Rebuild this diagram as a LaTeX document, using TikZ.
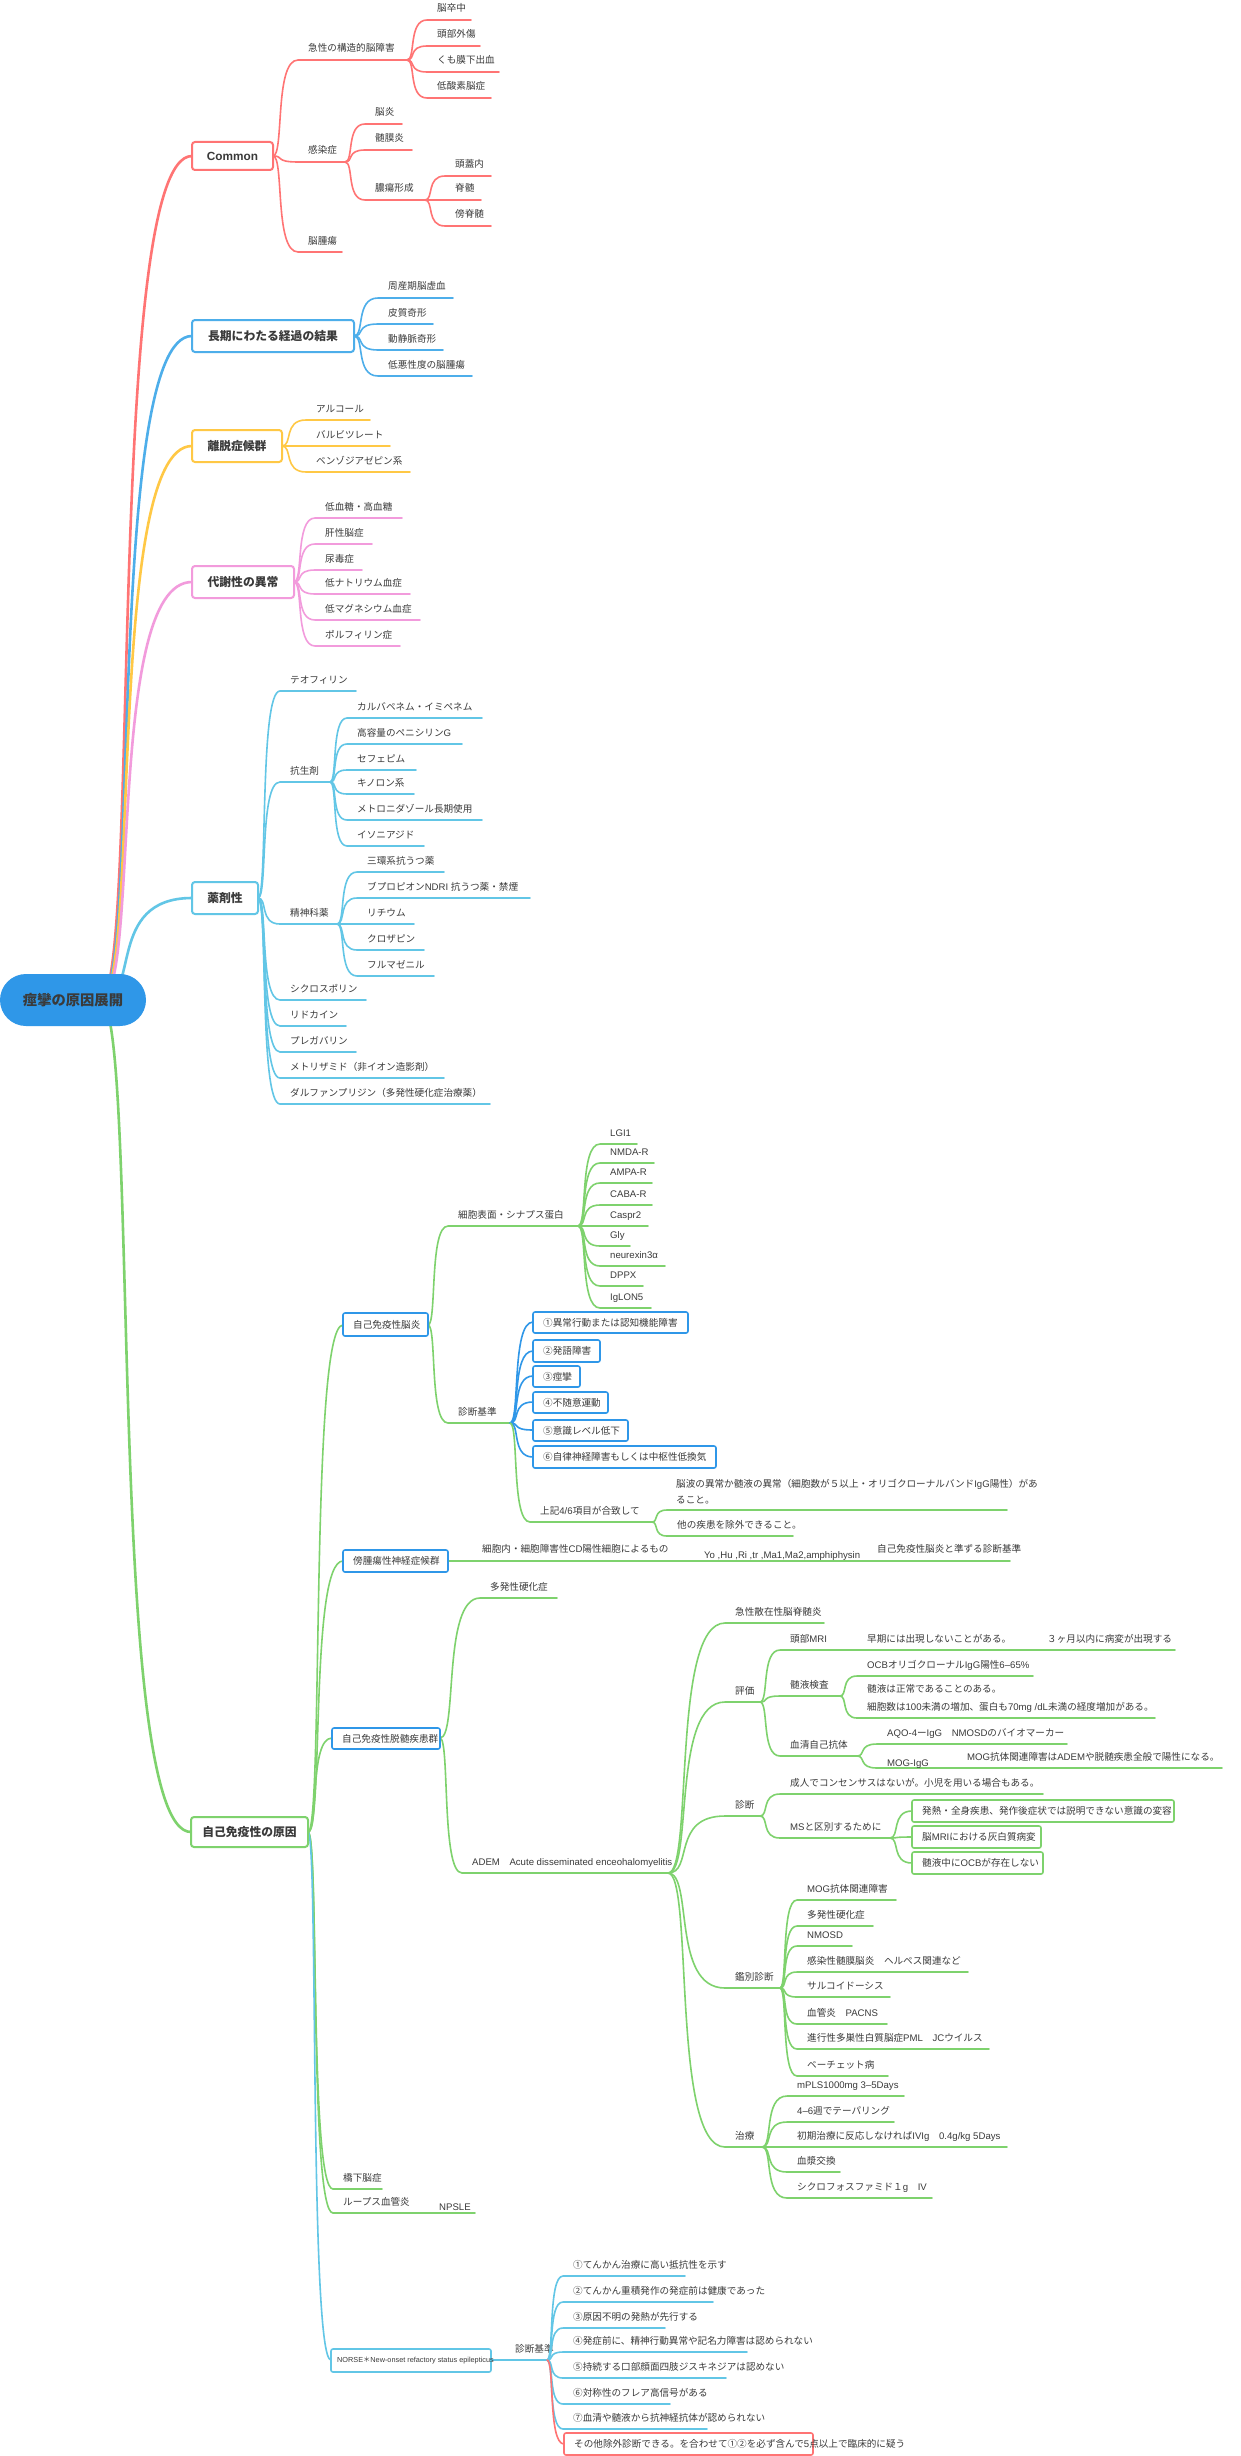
\documentclass[tikz,border=0pt]{standalone}
\usepackage{fontspec}
\setmainfont{Liberation Sans}
\newfontfamily\jpf{Noto Sans CJK JP}
\newcount\cc
\newXeTeXintercharclass\cjkclass
\newcommand\setcls[2]{\cc=#1 \loop \XeTeXcharclass\cc=\cjkclass \ifnum\cc<#2 \advance\cc by 1 \repeat}
\setcls{"2460}{"24FF}
\setcls{"3000}{"30FF}
\setcls{"4E00}{"9FFF}
\setcls{"FF00}{"FFEF}
\XeTeXinterchartokenstate=1
\XeTeXinterchartoks 0 \cjkclass = {\jpf}
\XeTeXinterchartoks 4095 \cjkclass = {\jpf}
\XeTeXinterchartoks \cjkclass 0 = {\rmfamily}
\definecolor{cR}{HTML}{FF7474}
\definecolor{cB}{HTML}{4DAEEA}
\definecolor{cY}{HTML}{FFC845}
\definecolor{cP}{HTML}{F29BDC}
\definecolor{cC}{HTML}{62C6E6}
\definecolor{cG}{HTML}{7ED26D}
\definecolor{cBB}{HTML}{2F97E8}
\definecolor{txt}{HTML}{3A3A3A}
\tikzset{
  lbl/.style={anchor=base west, inner sep=0pt, font=\fontsize{9.6}{11}\selectfont, text=txt},
  mlbl/.style={inner sep=0pt, font=\fontsize{11.8}{13}\selectfont\bfseries, text=txt},
  ln/.style={line width=1.6pt, line cap=round},
  mln/.style={line width=2.6pt, line cap=round},
}
% branch: color, x0,y0, x1,y1, x2, label
\newcommand\Br[7]{%
  \draw[ln,#1] (#2,#3) .. controls ({#2+0.45*(#4-#2)},#3) and ({#2+0.05*(#4-#2)},#5) .. (#4,#5) -- (#6,#5);
  \node[lbl] at (#4+10,#5-8) {#7};}
% connector only
\newcommand\Cn[6]{%
  \draw[#1,#6] (#2,#3) .. controls ({#2+0.45*(#4-#2)},#3) and ({#2+0.05*(#4-#2)},#5) .. (#4,#5);}
% box: color, x0,y0,x1,y1, text
\newcommand\Bx[6]{%
  \draw[line width=1.6pt,#1,fill=white,rounded corners=2pt] (#2,#3) rectangle (#4,#5);
  \node[lbl,anchor=west] at (#2+10,{(#3+#5)/2}) {#6};}
\newcommand\MBx[6]{%
  \draw[line width=2pt,#1,fill=white,rounded corners=3pt] (#2,#3) rectangle (#4,#5);
  \node[mlbl] at ({(#2+#4)/2},{(#3+#5)/2}) {#6};}
\newcommand\Lb[3]{\node[lbl] at (#1,#2) {#3};}
\begin{document}
\begin{tikzpicture}[x=1pt,y=-1pt]
\useasboundingbox[fill=white] (0,0) rectangle (1240,2456);
% ---- root connectors
\Cn{cR}{100}{1000}{192}{156}{mln}
\Cn{cB}{100}{1000}{192}{336}{mln}
\Cn{cY}{100}{1000}{192}{446}{mln}
\Cn{cP}{100}{1000}{192}{582}{mln}
\Cn{cC}{100}{1000}{192}{898}{mln}
\Cn{cG}{100}{1000}{191}{1832}{mln}
\node[fill=cBB, rounded corners=26pt, minimum width=146pt, minimum height=52pt, inner sep=0pt,
  font=\fontsize{14.3}{16}\selectfont\bfseries, text=txt] (root) at (73,1000) {痙攣の原因展開};
% ---- Common
\Br{cR}{273}{156}{298}{60}{407}{急性の構造的脳障害}
\Br{cR}{407}{60}{427}{20}{471}{脳卒中}
\Br{cR}{407}{60}{427}{46}{480}{頭部外傷}
\Br{cR}{407}{60}{427}{72}{499}{くも膜下出血}
\Br{cR}{407}{60}{427}{98}{491}{低酸素脳症}
\Br{cR}{273}{156}{298}{162}{345}{感染症}
\Br{cR}{345}{162}{365}{124}{402}{脳炎}
\Br{cR}{345}{162}{365}{150}{412}{髄膜炎}
\Br{cR}{345}{162}{365}{200}{425}{膿瘍形成}
\Br{cR}{425}{200}{445}{176}{491}{頭蓋内}
\Br{cR}{425}{200}{445}{200}{481}{脊髄}
\Br{cR}{425}{200}{445}{226}{491}{傍脊髄}
\Br{cR}{273}{156}{298}{252}{342}{脳腫瘍}
\MBx{cR}{192}{142}{273}{170}{Common}
% ---- 長期
\Br{cB}{354}{336}{378}{298}{453}{周産期脳虚血}
\Br{cB}{354}{336}{378}{324}{433}{皮質奇形}
\Br{cB}{354}{336}{378}{350}{443}{動静脈奇形}
\Br{cB}{354}{336}{378}{376}{472}{低悪性度の脳腫瘍}
\MBx{cB}{192}{320}{354}{352}{長期にわたる経過の結果}
% ---- 離脱
\Br{cY}{282}{446}{306}{420}{370}{アルコール}
\Br{cY}{282}{446}{306}{446}{390}{バルビツレート}
\Br{cY}{282}{446}{306}{472}{410}{ベンゾジアゼピン系}
\MBx{cY}{192}{430}{282}{462}{離脱症候群}
% ---- 代謝
\Br{cP}{294}{582}{315}{518}{402}{低血糖・高血糖}
\Br{cP}{294}{582}{315}{544}{372}{肝性脳症}
\Br{cP}{294}{582}{315}{570}{362}{尿毒症}
\Br{cP}{294}{582}{315}{594}{410}{低ナトリウム血症}
\Br{cP}{294}{582}{315}{620}{420}{低マグネシウム血症}
\Br{cP}{294}{582}{315}{646}{400}{ポルフィリン症}
\MBx{cP}{192}{566}{294}{598}{代謝性の異常}
% ---- 薬剤
\Br{cC}{258}{898}{280}{691}{356}{テオフィリン}
\Br{cC}{258}{898}{280}{782}{330}{抗生剤}
\Br{cC}{330}{782}{347}{718}{482}{カルバペネム・イミペネム}
\Br{cC}{330}{782}{347}{744}{462}{高容量のペニシリンG}
\Br{cC}{330}{782}{347}{770}{416}{セフェピム}
\Br{cC}{330}{782}{347}{794}{414}{キノロン系}
\Br{cC}{330}{782}{347}{820}{482}{メトロニダゾール長期使用}
\Br{cC}{330}{782}{347}{846}{424}{イソニアジド}
\Br{cC}{258}{898}{280}{924}{337}{精神科薬}
\Br{cC}{337}{924}{357}{872}{444}{三環系抗うつ薬}
\Br{cC}{337}{924}{357}{898}{530}{ブプロピオンNDRI 抗うつ薬・禁煙}
\Br{cC}{337}{924}{357}{924}{414}{リチウム}
\Br{cC}{337}{924}{357}{950}{424}{クロザピン}
\Br{cC}{337}{924}{357}{976}{434}{フルマゼニル}
\Br{cC}{258}{898}{280}{1000}{366}{シクロスポリン}
\Br{cC}{258}{898}{280}{1026}{346}{リドカイン}
\Br{cC}{258}{898}{280}{1052}{356}{プレガバリン}
\Br{cC}{258}{898}{280}{1078}{444}{メトリザミド（非イオン造影剤）}
\Br{cC}{258}{898}{280}{1104}{490}{ダルファンプリジン（多発性硬化症治療薬）}
\MBx{cC}{192}{882}{258}{914}{薬剤性}
% ---- 自己免疫性の原因
\Cn{cG}{308}{1832}{343}{1325}{ln}
\Cn{cG}{308}{1832}{343}{1561}{ln}
\Cn{cG}{308}{1832}{332}{1738}{ln}
\Br{cG}{308}{1832}{333}{2189}{382}{橋下脳症}
\Br{cG}{308}{1832}{333}{2213}{475}{ループス血管炎}
\Lb{439}{2210}{NPSLE}
\Cn{cC}{308}{1832}{331}{2360}{ln}
% 自己免疫性脳炎
\Br{cG}{428}{1325}{448}{1226}{578}{細胞表面・シナプス蛋白}
\Br{cG}{578}{1226}{600}{1144}{637}{LGI1}
\Br{cG}{578}{1226}{600}{1163}{654}{NMDA-R}
\Br{cG}{578}{1226}{600}{1183}{652}{AMPA-R}
\Br{cG}{578}{1226}{600}{1205}{652}{CABA-R}
\Br{cG}{578}{1226}{600}{1226}{648}{Caspr2}
\Br{cG}{578}{1226}{600}{1246}{630}{Gly}
\Br{cG}{578}{1226}{600}{1266}{665}{neurexin3α}
\Br{cG}{578}{1226}{600}{1286}{643}{DPPX}
\Br{cG}{578}{1226}{600}{1308}{651}{IgLON5}
\Br{cG}{428}{1325}{448}{1423}{510}{診断基準}
\Cn{cBB}{510}{1423}{533}{1322}{ln}
\Cn{cBB}{510}{1423}{533}{1351}{ln}
\Cn{cBB}{510}{1423}{533}{1376}{ln}
\Cn{cBB}{510}{1423}{533}{1402}{ln}
\Cn{cBB}{510}{1423}{533}{1430}{ln}
\Cn{cBB}{510}{1423}{533}{1457}{ln}
\Bx{cBB}{533}{1312}{688}{1333}{①異常行動または認知機能障害}
\Bx{cBB}{533}{1340}{600}{1362}{②発語障害}
\Bx{cBB}{533}{1366}{580}{1387}{③痙攣}
\Bx{cBB}{533}{1392}{608}{1413}{④不随意運動}
\Bx{cBB}{533}{1420}{628}{1441}{⑤意識レベル低下}
\Bx{cBB}{533}{1446}{716}{1468}{⑥自律神経障害もしくは中枢性低換気}
\Br{cG}{510}{1423}{530}{1522}{652}{上記4/6項目が合致して}
\Br{cG}{652}{1522}{667}{1510}{1007}{}
\Lb{676}{1487}{脳波の異常か髄液の異常（細胞数が５以上・オリゴクローナルバンドIgG陽性）があ}
\Lb{676}{1503}{ること。}
\Br{cG}{652}{1522}{667}{1536}{793}{他の疾患を除外できること。}
\Bx{cBB}{343}{1313}{428}{1336}{自己免疫性脳炎}
% 傍腫瘍
\draw[ln,cG] (448,1561) -- (1010,1561);
\Lb{482}{1552}{細胞内・細胞障害性CD陽性細胞によるもの}
\Lb{704}{1558}{Yo ,Hu ,Ri ,tr ,Ma1,Ma2,amphiphysin}
\Lb{877}{1552}{自己免疫性脳炎と準ずる診断基準}
\Bx{cBB}{343}{1550}{448}{1572}{傍腫瘍性神経症候群}
% 脱髄
\Br{cG}{440}{1738}{480}{1598}{557}{多発性硬化症}
\Br{cG}{440}{1738}{462}{1873}{668}{ADEM　Acute disseminated enceohalomyelitis}
\Br{cG}{668}{1873}{725}{1623}{824}{急性散在性脳脊髄炎}
\Br{cG}{668}{1873}{725}{1702}{760}{評価}
\Br{cG}{760}{1702}{780}{1650}{1175}{頭部MRI}
\Lb{867}{1642}{早期には出現しないことがある。}
\Lb{1047}{1642}{３ヶ月以内に病変が出現する}
\Br{cG}{760}{1702}{780}{1696}{840}{髄液検査}
\Br{cG}{840}{1696}{857}{1676}{1033}{OCBオリゴクローナルIgG陽性6–65\%}
\Br{cG}{840}{1696}{857}{1718}{1155}{}
\Lb{867}{1692}{髄液は正常であることのある。}
\Lb{867}{1710}{細胞数は100未満の増加、蛋白も70mg /dL未満の経度増加がある。}
\Br{cG}{760}{1702}{780}{1756}{857}{血清自己抗体}
\Br{cG}{857}{1756}{877}{1744}{1067}{AQO-4ーIgG　NMOSDのバイオマーカー}
\Br{cG}{857}{1756}{877}{1768}{1222}{}
\Lb{887}{1766}{MOG-IgG}
\Lb{967}{1760}{MOG抗体関連障害はADEMや脱髄疾患全般で陽性になる。}
\Br{cG}{668}{1873}{725}{1816}{760}{診断}
\Br{cG}{760}{1816}{780}{1794}{1043}{成人でコンセンサスはないが。小児を用いる場合もある。}
\Br{cG}{760}{1816}{780}{1838}{890}{MSと区別するために}
\Cn{cG}{890}{1838}{912}{1811}{ln}
\Cn{cG}{890}{1838}{912}{1837}{ln}
\Cn{cG}{890}{1838}{912}{1863}{ln}
\Bx{cG}{912}{1800}{1174}{1822}{発熱・全身疾患、発作後症状では説明できない意識の変容}
\Bx{cG}{912}{1826}{1041}{1848}{脳MRIにおける灰白質病変}
\Bx{cG}{912}{1852}{1043}{1874}{髄液中にOCBが存在しない}
\Br{cG}{668}{1873}{725}{1988}{780}{鑑別診断}
\Br{cG}{780}{1988}{797}{1900}{896}{MOG抗体関連障害}
\Br{cG}{780}{1988}{797}{1926}{873}{多発性硬化症}
\Br{cG}{780}{1988}{797}{1946}{852}{NMOSD}
\Br{cG}{780}{1988}{797}{1972}{968}{感染性髄膜脳炎　ヘルペス関連など}
\Br{cG}{780}{1988}{797}{1997}{890}{サルコイドーシス}
\Br{cG}{780}{1988}{797}{2024}{887}{血管炎　PACNS}
\Br{cG}{780}{1988}{797}{2049}{989}{進行性多巣性白質脳症PML　JCウイルス}
\Br{cG}{780}{1988}{797}{2076}{888}{ベーチェット病}
\Br{cG}{668}{1873}{725}{2147}{762}{治療}
\Br{cG}{762}{2147}{787}{2096}{904}{mPLS1000mg 3–5Days}
\Br{cG}{762}{2147}{787}{2122}{894}{4–6週でテーパリング}
\Br{cG}{762}{2147}{787}{2147}{1007}{初期治療に反応しなければIVIg　0.4g/kg 5Days}
\Br{cG}{762}{2147}{787}{2172}{840}{血漿交換}
\Br{cG}{762}{2147}{787}{2198}{932}{シクロフォスファミド１g　IV}
\Bx{cBB}{332}{1728}{440}{1749}{自己免疫性脱髄疾患群}
% NORSE
\draw[ln,cC] (491,2360) -- (547,2360);
\Lb{515}{2352}{診断基準}
\Br{cC}{547}{2360}{563}{2276}{685}{①てんかん治療に高い抵抗性を示す}
\Br{cC}{547}{2360}{563}{2302}{713}{②てんかん重積発作の発症前は健康であった}
\Br{cC}{547}{2360}{563}{2328}{665}{③原因不明の発熱が先行する}
\Br{cC}{547}{2360}{563}{2352}{747}{④発症前に、精神行動異常や記名力障害は認められない}
\Br{cC}{547}{2360}{563}{2378}{726}{⑤持続する口部顔面四肢ジスキネジアは認めない}
\Br{cC}{547}{2360}{563}{2404}{670}{⑥対称性のフレア高信号がある}
\Br{cC}{547}{2360}{563}{2429}{707}{⑦血清や髄液から抗神経抗体が認められない}
\Cn{cR}{547}{2360}{564}{2444}{ln}
\Bx{cR}{564}{2433}{813}{2455}{その他除外診断できる。を合わせて①②を必ず含んで5点以上で臨床的に疑う}
\draw[line width=1.6pt,cC,fill=white,rounded corners=2pt] (331,2349) rectangle (491,2372);
\node[lbl,anchor=west,font=\fontsize{7.3}{9}\selectfont] (norse) at (337,2360.5) {NORSE＊New-onset refactory status epilepticus};
\MBx{cG}{191}{1817}{308}{1847}{自己免疫性の原因}
\end{tikzpicture}
\end{document}
